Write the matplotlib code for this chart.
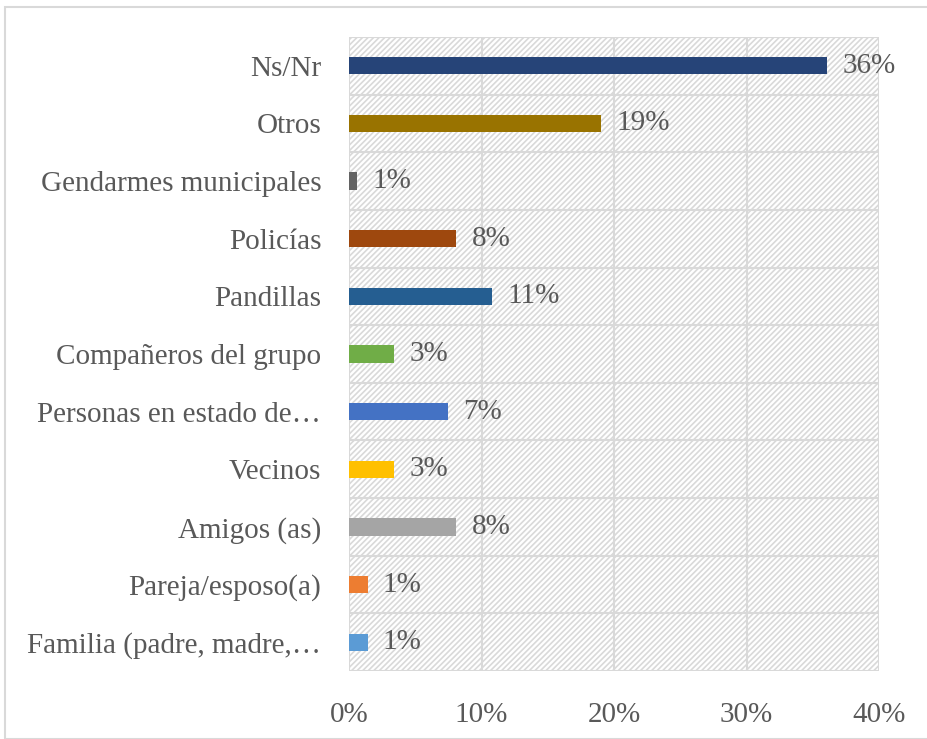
import matplotlib
matplotlib.use("Agg")
import matplotlib.pyplot as plt
from matplotlib.patches import Rectangle

plt.rcParams['font.family'] = ['Liberation Serif', 'DejaVu Serif']
plt.rcParams['hatch.linewidth'] = 1.2
plt.rcParams['hatch.color'] = '#D9D9D9'

categories = ["Familia (padre, madre,\u2026", "Pareja/esposo(a)", "Amigos (as)", "Vecinos",
              "Personas en estado de\u2026", "Compañeros del grupo", "Pandillas", "Policías",
              "Gendarmes municipales", "Otros", "Ns/Nr"]
values = [1.4, 1.4, 8.1, 3.4, 7.5, 3.4, 10.8, 8.1, 0.6, 19.0, 36.1]
value_labels = ["1%", "1%", "8%", "3%", "7%", "3%", "11%", "8%", "1%", "19%", "36%"]
colors = ["#5B9BD5", "#ED7D31", "#A5A5A5", "#FFC000", "#4472C4", "#70AD47",
          "#255E91", "#9E480E", "#636363", "#997300", "#264478"]
xticks = [0, 10, 20, 30, 40]
xtick_labels = ["0%", "10%", "20%", "30%", "40%"]

W, H = 927, 739
fig = plt.figure(figsize=(W / 100, H / 100), dpi=100)
fig.patches.append(Rectangle((5 / W, 0), 1, 1 - 7 / H, transform=fig.transFigure,
                             fill=False, edgecolor='#D9D9D9', linewidth=1.5))
ax = fig.add_axes([349 / W, 1 - 671 / H, (879 - 349) / W, (671 - 37) / H])

ax.add_patch(Rectangle((0, 0), 1, 1, transform=ax.transAxes, facecolor='white',
                       edgecolor='#D9D9D9', hatch='//////', linewidth=0, zorder=0))

y = list(range(len(categories)))
ax.barh(y, values, height=0.3, color=colors, zorder=3)
for yi, v, lab in zip(y, values, value_labels):
    ax.text(v + 1.15, yi, lab, va='center', ha='left', fontsize=21, color='#595959', zorder=4)

ax.set_xlim(0, 40)
ax.set_ylim(-0.5, len(categories) - 0.5)
ax.set_xticks(xticks)
ax.set_xticklabels(xtick_labels)
ax.set_yticks(y)
ax.set_yticklabels(categories)
ax.tick_params(axis='both', length=0, labelsize=21, colors='#595959')
ax.tick_params(axis='y', pad=20)
ax.tick_params(axis='x', pad=22)

for xv in xticks:
    ax.axvline(xv, color='#D9D9D9', linewidth=1.5, zorder=1)
for b in range(len(categories) + 1):
    ax.axhline(b - 0.5, color='#D9D9D9', linewidth=1.5, zorder=1)
for s in ax.spines.values():
    s.set_visible(False)

fig.savefig("out.png", dpi=100)
